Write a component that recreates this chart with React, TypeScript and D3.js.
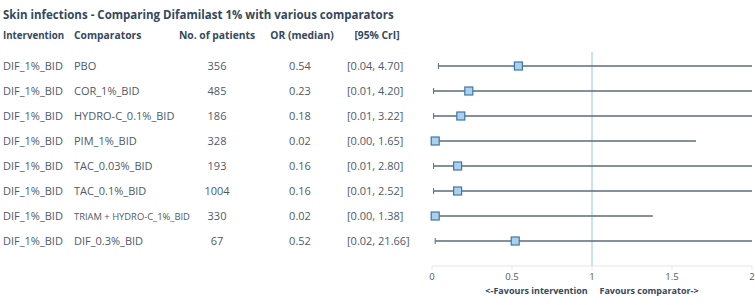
import React, { useRef, useEffect } from "react";
import * as d3 from "d3";

const title = "Skin infections - Comparing Difamilast 1% with various comparators";
const headers = ["Intervention", "Comparators", "No. of patients", "OR (median)", "[95% CrI]"];
const interventions = ["DIF_1%_BID", "DIF_1%_BID", "DIF_1%_BID", "DIF_1%_BID", "DIF_1%_BID", "DIF_1%_BID", "DIF_1%_BID", "DIF_1%_BID"];
const comparators = ["PBO", "COR_1%_BID", "HYDRO-C_0.1%_BID", "PIM_1%_BID", "TAC_0.03%_BID", "TAC_0.1%_BID", "TRIAM + HYDRO-C_1%_BID", "DIF_0.3%_BID"];
const patients = [356, 485, 186, 328, 193, 1004, 330, 67];
const orMedian = [0.54, 0.23, 0.18, 0.02, 0.16, 0.16, 0.02, 0.52];
const lower = [0.04, 0.01, 0.01, 0.0, 0.01, 0.01, 0.0, 0.02];
const upper = [4.7, 4.2, 3.22, 1.65, 2.8, 2.52, 1.38, 21.66];
const xTicks = [0, 0.5, 1, 1.5, 2];
const axisTitle = "<-Favours intervention     Favours comparator->";

const App = () => {
  const svgRef = useRef(null);

  useEffect(() => {
    const svg = d3.select(svgRef.current);
    svg.selectAll("*").remove();

    const font = "'Open Sans', sans-serif";
    const dark = "#34485c";
    const text = "#4e5a68";

    // plot area
    const x = d3.scaleLinear().domain([0, 2]).range([432, 752]);
    const y = d3
      .scalePoint()
      .domain(comparators.map((d, i) => String(i)))
      .range([66, 241]);

    // title
    svg
      .append("text")
      .attr("x", 3)
      .attr("y", 19)
      .attr("font-family", font)
      .attr("font-size", 11.5)
      .attr("font-weight", 700)
      .attr("fill", dark)
      .text(title);

    // table headers
    const colX = [3, 74, 217, 302, 377];
    const colAnchor = ["start", "start", "middle", "middle", "middle"];
    svg
      .append("g")
      .selectAll("text")
      .data(headers)
      .join("text")
      .attr("x", (d, i) => colX[i])
      .attr("y", 39)
      .attr("text-anchor", (d, i) => colAnchor[i])
      .attr("font-family", font)
      .attr("font-size", (d, i) => (i === 0 ? 9.7 : 10.3))
      .attr("font-weight", 700)
      .attr("fill", dark)
      .text((d) => d);

    // table rows
    const rows = svg
      .append("g")
      .selectAll("g")
      .data(comparators)
      .join("g")
      .attr("transform", (d, i) => `translate(0,${y(String(i))! + 4})`)
      .attr("font-family", font)
      .attr("font-size", 11)
      .attr("fill", text);
    rows.append("text").attr("x", 3).text((d, i) => interventions[i]);
    // comparator column: shrink long names to fit the column width
    const compMax = 116;
    rows
      .append("text")
      .attr("x", 74)
      .text((d) => d)
      .each(function () {
        const node = this as SVGTextElement;
        const len = node.getComputedTextLength();
        if (len > compMax) {
          d3.select(node).attr("font-size", (11 * compMax) / len);
        }
      });
    rows.append("text").attr("x", 217).attr("text-anchor", "middle").text((d, i) => patients[i]);
    rows.append("text").attr("x", 300).attr("text-anchor", "middle").text((d, i) => orMedian[i].toFixed(2));
    rows
      .append("text")
      .attr("x", 347)
      .text((d, i) => `[${lower[i].toFixed(2)}, ${upper[i].toFixed(2)}]`);

    // axis baseline
    svg
      .append("line")
      .attr("x1", x(0))
      .attr("x2", x(2))
      .attr("y1", 266)
      .attr("y2", 266)
      .attr("stroke", "#e3e6ea")
      .attr("stroke-width", 1);

    // x ticks
    const ticks = svg.append("g").selectAll("g").data(xTicks).join("g");
    ticks
      .append("line")
      .attr("x1", (d) => x(d))
      .attr("x2", (d) => x(d))
      .attr("y1", 266)
      .attr("y2", 270)
      .attr("stroke", "#e3e6ea");
    ticks
      .append("text")
      .attr("x", (d) => x(d))
      .attr("y", 280)
      .attr("text-anchor", "middle")
      .attr("font-family", font)
      .attr("font-size", 9.5)
      .attr("fill", text)
      .text((d) => String(d));

    // reference line at 1
    svg
      .append("line")
      .attr("x1", x(1))
      .attr("x2", x(1))
      .attr("y1", 52)
      .attr("y2", 266)
      .attr("stroke", "#c8e2f6")
      .attr("stroke-width", 2);

    // axis title
    svg
      .append("text")
      .attr("x", x(1))
      .attr("y", 294)
      .attr("text-anchor", "middle")
      .attr("font-family", font)
      .attr("font-size", 9)
      .attr("font-weight", 700)
      .attr("fill", dark)
      .attr("xml:space", "preserve")
      .style("white-space", "pre")
      .text(axisTitle);

    // whiskers
    const maxX = x.domain()[1];
    const marks = svg.append("g").selectAll("g").data(orMedian).join("g");
    marks
      .append("line")
      .attr("x1", (d, i) => x(lower[i]))
      .attr("x2", (d, i) => x(Math.min(upper[i], maxX)))
      .attr("y1", (d, i) => y(String(i))!)
      .attr("y2", (d, i) => y(String(i))!)
      .attr("stroke", "#5c6b7a")
      .attr("stroke-width", 1.5);
    marks
      .append("line")
      .attr("x1", (d, i) => x(lower[i]))
      .attr("x2", (d, i) => x(lower[i]))
      .attr("y1", (d, i) => y(String(i))! - 3)
      .attr("y2", (d, i) => y(String(i))! + 3)
      .attr("stroke", "#5c6b7a")
      .attr("stroke-width", 1);
    marks
      .filter((d, i) => upper[i] <= maxX)
      .append("line")
      .attr("x1", (d, i) => x(upper[i]))
      .attr("x2", (d, i) => x(upper[i]))
      .attr("y1", (d, i) => y(String(i))! - 3)
      .attr("y2", (d, i) => y(String(i))! + 3)
      .attr("stroke", "#5c6b7a")
      .attr("stroke-width", 1);
    marks
      .append("rect")
      .attr("x", (d) => x(d) - 4)
      .attr("y", (d, i) => y(String(i))! - 4)
      .attr("width", 8)
      .attr("height", 8)
      .attr("fill", "#aad0ec")
      .attr("stroke", "#3c78a8")
      .attr("stroke-width", 1.2);
  }, []);

  return (
    <svg
      ref={svgRef}
      width={755}
      height={305}
      style={{ position: "absolute", left: 0, top: 0, background: "#fff" }}
    ></svg>
  );
};

export default App;
